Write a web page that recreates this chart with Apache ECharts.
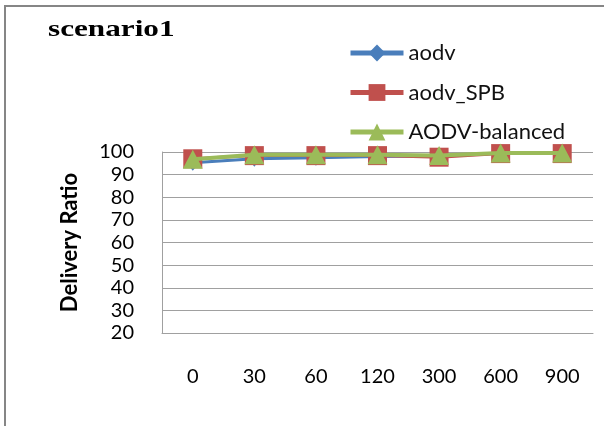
<!DOCTYPE html>
<html>
<head>
<meta charset="utf-8">
<script src="https://cdn.jsdelivr.net/npm/echarts@6/dist/echarts.min.js"></script>
<style>
  html, body { margin: 0; padding: 0; background: #fff; }
  #chart { width: 604px; height: 426px; }
</style>
</head>
<body>
<div id="chart"></div>
<script>
// Pause times on the x axis
const categories = ['0', '30', '60', '120', '300', '600', '900'];

// Delivery ratio (%) per routing protocol
const aodv = [95.3, 97.0, 97.5, 98.0, 98.3, 99.5, 99.5];
const aodvSPB = [97.0, 98.4, 98.4, 98.4, 97.7, 99.3, 99.3];
const aodvBalanced = [96.8, 98.8, 98.8, 98.8, 98.5, 99.6, 99.6];

const seriesNames = ['aodv', 'aodv_SPB', 'AODV-balanced'];
const chartTitle = 'scenario1';

const uiFont = 'Lato, "Open Sans", sans-serif';

const chart = echarts.init(document.getElementById('chart'), null, { renderer: 'canvas' });

function solidItem(color) {
  return { color: color, borderColor: color, borderWidth: 0 };
}

chart.setOption({
  animation: false,
  backgroundColor: '#ffffff',
  graphic: [
    {
      type: 'rect',
      shape: { x: 5, y: 6, width: 700, height: 500 },
      style: { fill: 'none', stroke: '#868686', lineWidth: 2 },
      silent: true,
      z: 0
    },
    {
      // wide bold serif heading
      type: 'text',
      x: 48,
      y: 30,
      scaleX: 1.3,
      style: {
        text: chartTitle,
        font: 'bold 24px "Liberation Serif", "Times New Roman", serif',
        fill: '#000',
        verticalAlign: 'middle'
      },
      silent: true,
      z: 10
    }
  ],
  legend: {
    orient: 'vertical',
    left: 343,
    top: 37,
    itemWidth: 53,
    itemHeight: 21,
    itemGap: 17.5,
    lineStyle: { width: 5 },
    textStyle: { fontFamily: uiFont, fontSize: 22, color: '#111' },
    data: seriesNames
  },
  grid: {
    left: 162,
    right: 11,
    top: 152,
    bottom: 93,
    containLabel: false
  },
  xAxis: {
    type: 'category',
    data: categories,
    boundaryGap: true,
    axisLine: { show: true, lineStyle: { color: '#a0a0a0', width: 1 } },
    axisTick: { show: false },
    axisLabel: { margin: 34, fontFamily: uiFont, fontSize: 20, color: '#000' },
    splitLine: { show: false }
  },
  yAxis: {
    type: 'value',
    min: 20,
    max: 100,
    interval: 10,
    name: 'Delivery Ratio',
    nameLocation: 'middle',
    nameGap: 81,
    nameRotate: 90,
    nameTextStyle: { fontFamily: uiFont, fontSize: 22, fontWeight: 'bold', color: '#000' },
    axisLine: { show: true, lineStyle: { color: '#a0a0a0', width: 1 } },
    axisTick: { show: false },
    axisLabel: { margin: 28, fontFamily: uiFont, fontSize: 20, color: '#000' },
    splitLine: { show: true, lineStyle: { color: '#a0a0a0', width: 1 } }
  },
  series: [
    {
      name: 'aodv',
      type: 'line',
      data: aodv,
      symbol: 'diamond',
      symbolSize: [13, 16],
      itemStyle: solidItem('#4a7ebb'),
      lineStyle: { color: '#4a7ebb', width: 3 },
      z: 2
    },
    {
      name: 'aodv_SPB',
      type: 'line',
      data: aodvSPB,
      symbol: 'rect',
      symbolSize: 19,
      itemStyle: solidItem('#c0504d'),
      lineStyle: { color: '#c0504d', width: 3 },
      z: 3
    },
    {
      name: 'AODV-balanced',
      type: 'line',
      data: aodvBalanced,
      symbol: 'triangle',
      symbolSize: [20, 19],
      itemStyle: solidItem('#9bbb59'),
      lineStyle: { color: '#9bbb59', width: 4 },
      z: 4
    }
  ]
});
</script>
</body>
</html>
